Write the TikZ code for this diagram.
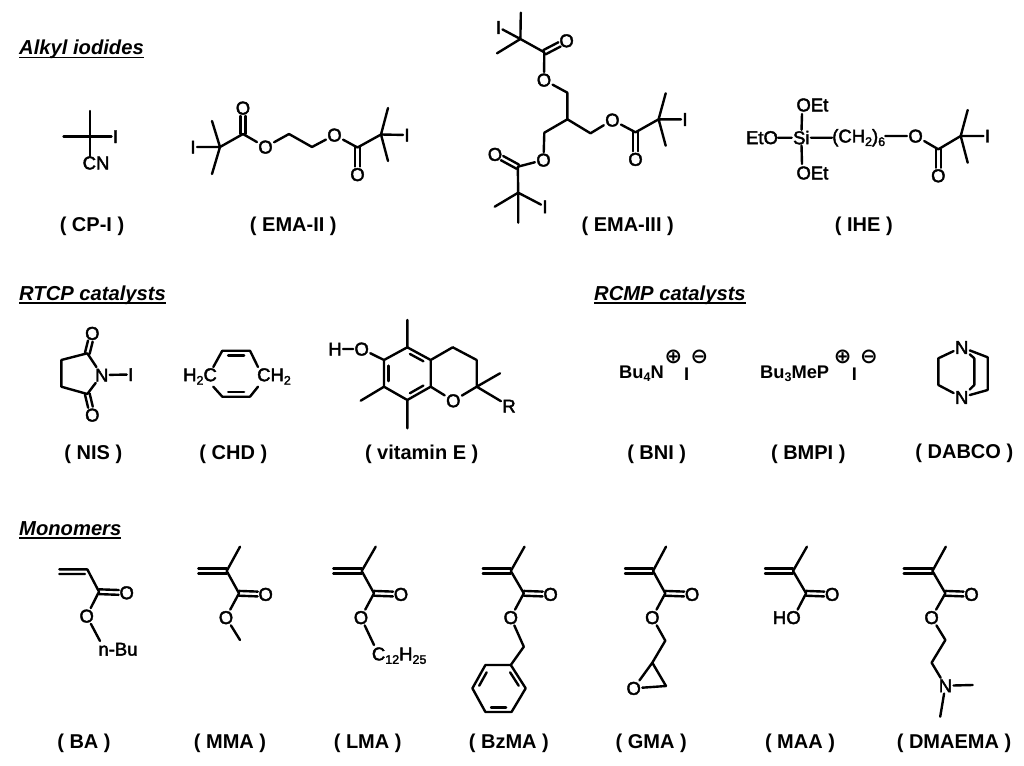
\documentclass[tikz,border=0pt]{standalone}
\usepackage{fontspec}
\setmainfont{Liberation Sans}
\newfontfamily\atomfont[FakeBold=2.2]{Liberation Sans}
\newfontfamily\chargefont{DejaVu Sans}
\usetikzlibrary{calc}
\newcommand{\sbs}[1]{\raisebox{-3.5pt}{\fontsize{12.5}{12.5}\selectfont #1}}
\newcommand{\ulhead}[1]{\setbox0\hbox{#1}\rlap{\rule[-3.5pt]{\wd0}{1.6pt}}\box0}
\newcommand{\dblO}[2]{\draw[bondline,shorten >=8pt] ($(#1)!2.4pt!90:(#2)$) -- ($(#2)!2.4pt!-90:(#1)$);\draw[bondline,shorten >=8pt] ($(#1)!2.4pt!-90:(#2)$) -- ($(#2)!2.4pt!90:(#1)$);}
\newcommand{\dblC}[2]{\draw[bondline] ($(#1)!2.4pt!90:(#2)$) -- ($(#2)!2.4pt!-90:(#1)$);\draw[bondline] ($(#1)!2.4pt!-90:(#2)$) -- ($(#2)!2.4pt!90:(#1)$);}
\newcommand{\innerb}[3]{\draw[bondline] ($(#1)!.14!(#2)!.2!(#3)$) -- ($(#2)!.14!(#1)!.2!(#3)$);}
\tikzset{
  bondline/.style={line width=2.4pt,line cap=round,line join=round,black},
  atom/.style={font=\atomfont\fontsize{18.5}{18.5}\selectfont,inner sep=1.2pt,text height=13pt,text depth=0pt,black},
  chem/.style={font=\atomfont\fontsize{18.5}{18.5}\selectfont,inner sep=0pt,black},
  salt/.style={font=\bfseries\fontsize{18.3}{18.3}\selectfont,inner sep=0pt,black},
  caption/.style={font=\bfseries\fontsize{20}{20}\selectfont,inner sep=0pt,black},
  heading/.style={font=\bfseries\itshape\fontsize{20.2}{20.2}\selectfont,inner sep=0pt,anchor=base west,black},
  charge/.style={font=\chargefont\bfseries\fontsize{21}{21}\selectfont,inner sep=0pt,black},
}
\begin{document}
\begin{tikzpicture}[x=1pt,y=-1pt]
\fill[white] (0,0) rectangle (1024,765);
\useasboundingbox (0,0) rectangle (1024,765);
% headings
\node[heading] (h1) at (19,55) {\ulhead{Alkyl iodides}};
\node[heading] (h2) at (19,300) {\ulhead{RTCP catalysts}};
\node[heading] (h3) at (594,300) {\ulhead{RCMP catalysts}};
\node[heading] (h4) at (19,535) {\ulhead{Monomers}};
% captions
\foreach \n/\x/\y/\t in {c1/92/226.5/{( CP-I )},c2/293.3/226.5/{( EMA-II )},c3/627.7/226.5/{( EMA-III )},c4/863.8/226.5/{( IHE )},
 c5/93.3/454.5/{( NIS )},c6/233.3/454.5/{( CHD )},c7/421.7/454.5/{( vitamin E )},c8/656.7/454.5/{( BNI )},c9/808.3/454.5/{( BMPI )},c10/964.3/453/{( DABCO )},
 c11/84/743.5/{( BA )},c12/230/743.5/{( MMA )},c13/367.7/743.5/{( LMA )},c14/508.9/743.5/{( BzMA )},c15/651.2/743.5/{( GMA )},c16/800/743.5/{( MAA )},c17/954/743.5/{( DMAEMA )}}
  \node[caption] (\n) at (\x,\y) {\t};
% CP-I
\coordinate (a0) at (90,136.5);
\coordinate (a1) at (90,111);
\coordinate (a2) at (63.5,136.5);
\node[atom] (aI) at (115.5,136.5) {I};
\node[chem] (aCN) at (96,163) {CN};
\draw[bondline] (a0)--(a1) (a0)--(a2) (a0)--(aI);
\draw[bondline] (a0)--(a0|-aCN.north);
% EMA-II
\node[atom] (bI1) at (193,147) {I};
\coordinate (b1) at (220,147);
\coordinate (b2) at (212,121);
\coordinate (b3) at (212,174);
\coordinate (b4) at (243,134);
\node[atom] (bO1) at (243,108) {O};
\node[atom] (bO2) at (265.5,147) {O};
\coordinate (b5) at (289,134);
\coordinate (b6) at (312,147);
\node[atom] (bO3) at (334.5,135) {O};
\coordinate (b7) at (357.5,147.5);
\node[atom] (bO4) at (357.5,174.5) {O};
\coordinate (b8) at (381,134.5);
\coordinate (b9) at (388,108);
\coordinate (b10) at (388,161);
\node[atom] (bI2) at (407,135) {I};
\draw[bondline] (bI1)--(b1) (b1)--(b2) (b1)--(b3) (b1)--(b4) (b4)--(bO2) (bO2)--(b5) (b5)--(b6) (b6)--(bO3) (bO3)--(b7) (b7)--(b8) (b8)--(b9) (b8)--(b10) (b8)--(bI2);
\dblO{b4}{bO1}\dblO{b7}{bO4}
% EMA-III
\coordinate (c01) at (520.4,39);
\coordinate (c02) at (520.8,12.7);
\node[atom] (cI1) at (498.5,27.3) {I};
\coordinate (c03) at (497,53.3);
\coordinate (c04) at (544.3,52.3);
\node[atom] (cO1) at (566.6,40.7) {O};
\node[atom] (cO2) at (544,80) {O};
\coordinate (c05) at (567.4,92.7);
\coordinate (c06) at (567.4,119.3);
\coordinate (c07) at (544.3,132.7);
\node[atom] (cO3) at (543.5,160) {O};
\coordinate (c08) at (517.8,166.7);
\node[atom] (cO4) at (495,154.3) {O};
\coordinate (c09) at (518.2,192.7);
\coordinate (c10) at (494.7,206.7);
\coordinate (c11) at (518.2,222.7);
\node[atom] (cI2) at (545,206.7) {I};
\coordinate (c12) at (590.5,133.3);
\node[atom] (cO5) at (612.4,120) {O};
\coordinate (c13) at (635.5,132.3);
\node[atom] (cO6) at (635.5,159.3) {O};
\coordinate (c14) at (658.6,119.3);
\coordinate (c15) at (665.7,93.3);
\coordinate (c16) at (665.7,145.7);
\node[atom] (cI3) at (685,119.3) {I};
\draw[bondline] (c01)--(c02) (c01)--(cI1) (c01)--(c03) (c01)--(c04) (c04)--(cO2) (cO2)--(c05) (c05)--(c06) (c06)--(c07) (c07)--(cO3) (cO3)--(c08) (c08)--(c09) (c09)--(c10) (c09)--(c11) (c09)--(cI2) (c06)--(c12) (c12)--(cO5) (cO5)--(c13) (c13)--(c14) (c14)--(c15) (c14)--(c16) (c14)--(cI3);
\dblO{c04}{cO1}\dblO{c08}{cO4}\dblO{c13}{cO6}
% IHE
\node[atom] (dSi) at (801.3,137.7) {Si};
\node[chem] (dO1) at (812.4,105) {OEt};
\node[chem] (dO2) at (812.4,173) {OEt};
\node[chem] (dO3) at (762,137.7) {EtO};
\node[chem,anchor=west] (dCH) at (832,137.7) {(CH\sbs{2})\sbs{6}};
\coordinate (d1n) at (802,114);
\coordinate (d2n) at (802,164);
\node[atom] (dO4) at (915.6,136) {O};
\coordinate (d1) at (938.3,149.3);
\node[atom] (dO5) at (938.3,175.7) {O};
\coordinate (d2) at (960.7,136);
\coordinate (d3) at (967.7,110);
\coordinate (d4) at (967.7,162.7);
\node[atom] (dI) at (987.5,136) {I};
\draw[bondline] (dSi)--(d1n) (dSi)--(d2n) (dSi)--(dO3) (dSi)--(dCH) (dCH.east|-dO4)--(dO4) (dO4)--(d1) (d1)--(d2) (d2)--(d3) (d2)--(d4) (d2)--(dI);
\dblO{d1}{dO5}
% NIS
\node[atom] (eO1) at (92.3,333.3) {O};
\coordinate (e1) at (87.3,353.3);
\coordinate (e2) at (61.3,360);
\coordinate (e3) at (61.3,386.7);
\coordinate (e4) at (87.3,394);
\node[atom] (eO2) at (92.3,415) {O};
\node[atom] (eN) at (101.7,375) {N};
\node[atom] (eI) at (130.7,374.5) {I};
\draw[bondline] (e1)--(e2) (e2)--(e3) (e3)--(e4) (e4)--(eN) (eN)--(e1) (eN)--(eI);
\dblO{e1}{eO1}\dblO{e4}{eO2}
% CHD
\node[chem] (fL) at (200,376.5) {H\sbs{2}C};
\node[chem] (fR) at (274,376.5) {CH\sbs{2}};
\coordinate (f1) at (222.3,350.7);
\coordinate (f2) at (250,350.7);
\coordinate (f3) at (250,396.7);
\coordinate (f4) at (222.3,396.7);
\coordinate (f5) at (258,367);
\coordinate (f6) at (258,386.7);
\coordinate (f7) at (213.3,367);
\coordinate (f8) at (213.3,386.7);
\coordinate (f9) at (236,373.7);
\draw[bondline] (f1)--(f2) (f2)--(f5) (f6)--(f3) (f3)--(f4) (f4)--(f8) (f7)--(f1);
\innerb{f1}{f2}{f9}\innerb{f3}{f4}{f9}
% vitamin E
\node[atom] (gH) at (335,349) {H};
\node[atom] (gO) at (361.7,349) {O};
\coordinate (g1) at (384,360);
\coordinate (g2) at (407.3,347.3);
\coordinate (g3) at (430.7,360);
\coordinate (g4) at (430.7,386.7);
\coordinate (g5) at (407.3,400);
\coordinate (g6) at (384,386.7);
\coordinate (g7) at (407.3,320);
\coordinate (g8) at (360.7,400.7);
\coordinate (g9) at (407.3,428.3);
\coordinate (g10) at (452.7,347.3);
\coordinate (g11) at (476.7,360);
\coordinate (g12) at (476.7,386.7);
\node[atom] (gO2) at (453.3,400.7) {O};
\coordinate (g13) at (500,373.3);
\node[atom] (gR) at (509,406) {R};
\coordinate (gc) at (407.3,373.5);
\draw[bondline] (gH)--(gO) (gO)--(g1) (g1)--(g2) (g2)--(g3) (g3)--(g4) (g4)--(g5) (g5)--(g6) (g6)--(g1) (g2)--(g7) (g6)--(g8) (g5)--(g9) (g3)--(g10) (g10)--(g11) (g11)--(g12) (g12)--(gO2) (gO2)--(g4) (g12)--(g13) (g12)--(gR);
\innerb{g2}{g3}{gc}\innerb{g4}{g5}{gc}\innerb{g6}{g1}{gc}
% BNI
\node[salt,anchor=west] (hB) at (619,373.7) {Bu\sbs{4}N};
\node[salt] (hI) at (686.7,374) {I};
\node[charge] (hP) at (673.3,356.5) {⊕};
\node[charge] (hM) at (699.3,357) {⊖};
% BMPI
\node[salt,anchor=west] (iB) at (760,373.7) {Bu\sbs{3}MeP};
\node[salt] (iI) at (854.3,374) {I};
\node[charge] (iP) at (842.7,357) {⊕};
\node[charge] (iM) at (869,357) {⊖};
% DABCO
\node[atom] (jN1) at (961.7,347.3) {N};
\node[atom] (jN2) at (961.7,397.3) {N};
\coordinate (j1) at (938.3,358.3);
\coordinate (j2) at (938.3,385);
\coordinate (j3) at (987.7,357.3);
\coordinate (j4) at (987.7,390);
\coordinate (j5) at (974.3,358.3);
\coordinate (j6) at (974.3,385);
\draw[bondline] (jN1)--(j1) (j1)--(j2) (j2)--(jN2) (jN1)--(j3) (j3)--(j4) (j4)--(jN2) (jN1)--(j5) (j5)--(j6) (j6)--(jN2);
% BA
\coordinate (k0) at (59.3,569.3);
\coordinate (k1) at (87.3,569.3);
\coordinate (k0b) at (59.3,574);
\coordinate (k1b) at (85,574);
\coordinate (k2) at (99,591.7);
\node[atom] (kO1) at (126.7,592.7) {O};
\node[atom] (kO2) at (86.7,616) {O};
\coordinate (k3) at (100,641);
\node[chem] (kB) at (118,649.3) {n-Bu};
\draw[bondline] (k0)--(k1) (k0b)--(k1b) (k1)--(k2) (k2)--(kO2) (kO2)--(k3);
\dblO{k2}{kO1}
% methacrylate monomers
\foreach \p/\xa/\xb/\xc/\xd/\xe/\xf in {l/198.3/226.7/240/239/265.7/226,m/333.3/361.7/375.7/374/401/361,n/482.8/510.8/524.5/523.8/550.6/510.8,o/625/653/666/665.3/692.1/652.3,q/765/793/806.9/806.1/832.2/793.5,r/903.7/932.4/945.8/945.4/971.5/931.6}{
  \coordinate (\p0) at (\xa,571);
  \coordinate (\p1) at (\xb,571);
  \coordinate (\p2) at (\xc,546.7);
  \coordinate (\p3) at (\xd,593.3);
  \node[atom] (\p O1) at (\xe,594.3) {O};
  \node[atom] (\p O2) at (\xf,617.5) {O};
  \draw[bondline] (\p1)--(\p2) (\p1)--(\p3) (\p3)--(\p O2);
  \dblC{\p0}{\p1}
  \dblO{\p3}{\p O1}
}
% MAA hydrogen
\node[atom] (qH) at (779.5,617.5) {H};
% MMA tail
\coordinate (l4) at (240,640);
\draw[bondline] (lO2)--(l4);
% LMA tail
\coordinate (m4) at (374,645);
\node[chem,anchor=west] (mC) at (371.7,655.7) {C\sbs{12}H\sbs{25}};
\draw[bondline] (mO2)--(m4);
% BzMA tail
\coordinate (n4) at (523.8,646.7);
\coordinate (n5) at (510.8,665);
\coordinate (n6) at (485.4,665);
\coordinate (n7) at (472.4,688.3);
\coordinate (n8) at (485.4,712);
\coordinate (n9) at (511.5,712);
\coordinate (n10) at (525.7,688.3);
\coordinate (nc) at (499,688.5);
\draw[bondline] (nO2)--(n4) (n4)--(n5) (n5)--(n6) (n6)--(n7) (n7)--(n8) (n8)--(n9) (n9)--(n10) (n10)--(n5);
\innerb{n6}{n7}{nc}\innerb{n8}{n9}{nc}\innerb{n10}{n5}{nc}
% GMA tail
\coordinate (o4) at (665.3,640.7);
\coordinate (o5) at (652.3,662.7);
\coordinate (o6) at (666,686);
\node[atom] (oO3) at (633.7,688.3) {O};
\draw[bondline] (oO2)--(o4) (o4)--(o5) (o5)--(o6) (o6)--(oO3) (oO3)--(o5);
% DMAEMA tail
\coordinate (r4) at (945.4,640);
\coordinate (r5) at (931.6,662.7);
\node[atom] (rN) at (945.4,685.7) {N};
\coordinate (r6) at (972.6,685);
\coordinate (r7) at (940.2,716.7);
\draw[bondline] (rO2)--(r4) (r4)--(r5) (r5)--(rN) (rN)--(r6) (rN)--(r7);
\end{tikzpicture}
\end{document}
